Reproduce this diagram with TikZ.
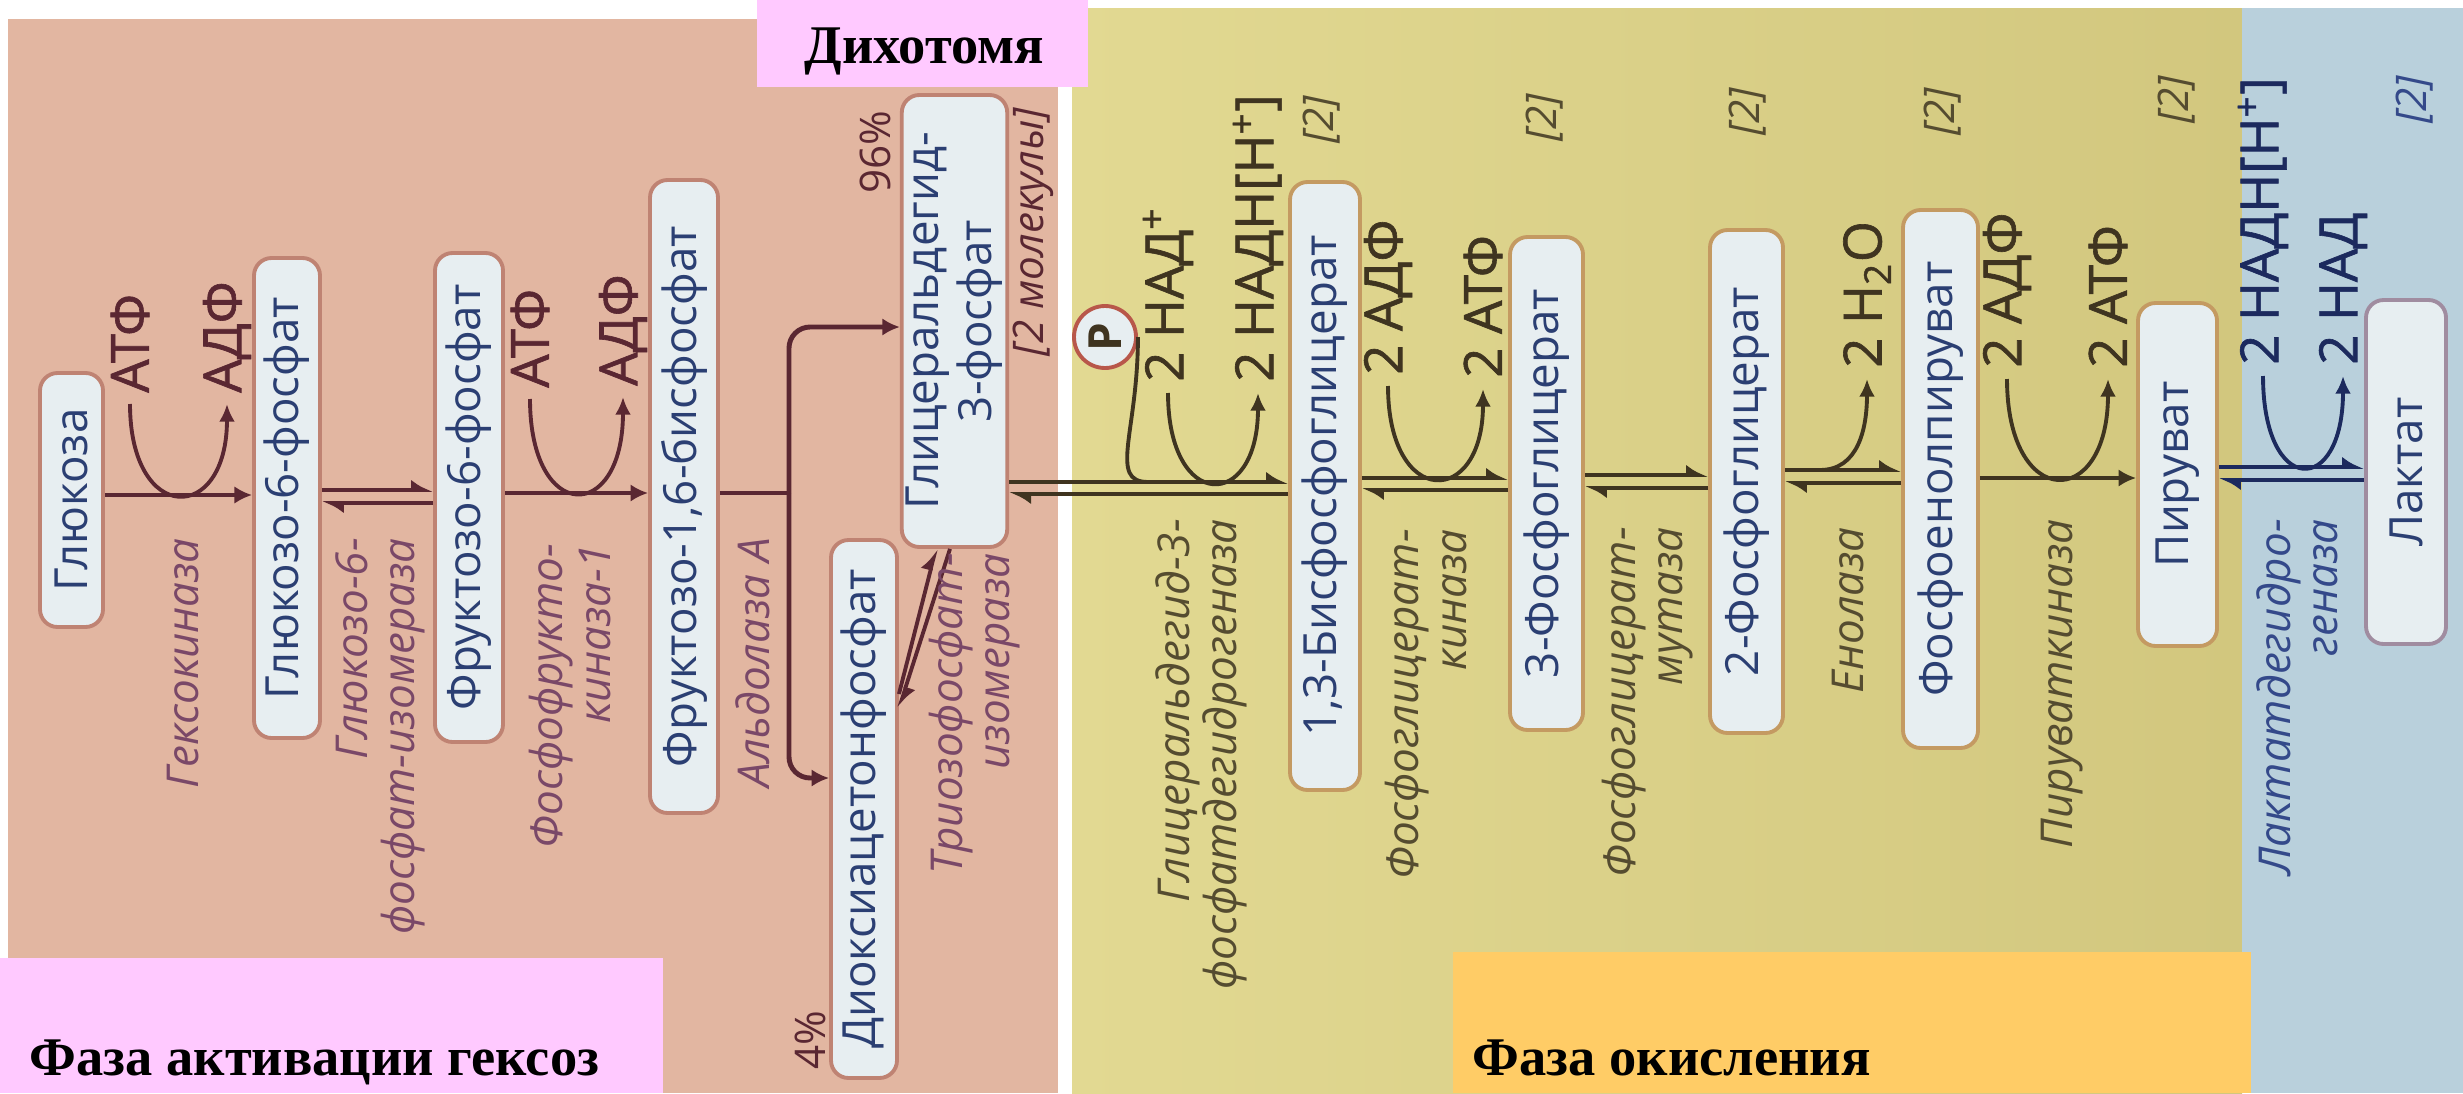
\documentclass[tikz,border=0pt]{standalone}
\usepackage{fontspec}
\setmainfont{Liberation Serif}
\setsansfont{Open Sans}
\newfontfamily\cofont[FakeBold=1.2]{Open Sans}
\usetikzlibrary{arrows.meta}

% zones
\definecolor{zoneA}{HTML}{E2B6A1}
\definecolor{zoneB}{HTML}{E2D992}
\definecolor{zoneBdark}{HTML}{D2C77E}
\definecolor{zoneC}{HTML}{B9D0DC}
\definecolor{pinkbox}{HTML}{FFC9FF}
\definecolor{orangebox}{HTML}{FFCC66}
% boxes
\definecolor{boxfill}{HTML}{E7EEF1}
\definecolor{boxtext}{HTML}{2B3F73}
\definecolor{edgeA}{HTML}{BF8373}
\definecolor{edgeB}{HTML}{C49A62}
\definecolor{edgeC}{HTML}{A08CA0}
\definecolor{edgeP}{HTML}{B8574A}
% lines and labels
\definecolor{inkA}{HTML}{5A2732}
\definecolor{inkB}{HTML}{3F3420}
\definecolor{inkC}{HTML}{1C2A5E}
\definecolor{enzA}{HTML}{7A4868}
\definecolor{enzB}{HTML}{554C30}
\definecolor{enzC}{HTML}{34498A}

\begin{document}
\begin{tikzpicture}[x=0.1mm,y=-0.1mm]
  \tikzset{
    met/.style={draw=#1, line width=1.1pt, fill=boxfill, rounded corners=5pt,
      text=boxtext, inner sep=0pt, font=\sffamily\fontsize{13}{15}\selectfont},
    met/.default=edgeA,
    enz/.style={rotate=90, anchor=east, align=right, inner sep=1pt, text=#1,
      font=\sffamily\itshape\fontsize{12.5}{13.4}\selectfont},
    enz/.default=enzA,
    cof/.style={rotate=90, anchor=west, inner sep=3pt, text=#1,
      font=\cofont\fontsize{15}{17}\selectfont},
    cof/.default=inkA,
    cnt/.style={rotate=90, inner sep=1pt, text=#1,
      font=\sffamily\itshape\fontsize{12}{14}\selectfont},
    cnt/.default=enzB,
    ttl/.style={anchor=base west, inner sep=0pt, text=black,
      font=\rmfamily\bfseries\fontsize{15.5}{18}\selectfont},
    fwd/.style={draw=#1, line width=1.4pt, -{Latex[length=5pt,width=5pt]}},
    fwd/.default=inkA,
    rev/.style={draw=#1, line width=1.1pt, -{Latex[harpoon,length=5pt,width=6pt]}},
    rev/.default=inkA,
    arc/.style={draw=#1, line width=1.1pt, -{Latex[length=5pt,width=4.5pt]}},
    arc/.default=inkA,
    pcirc/.style={circle, draw=edgeP, line width=1.1pt, fill=boxfill,
      minimum size=6.2mm, inner sep=0pt, rotate=90, text=inkB,
      font=\sffamily\bfseries\fontsize{13}{15}\selectfont}
  }
  \useasboundingbox (0,0) rectangle (2463,1093);

  % background zones
  \fill[white] (0,0) rectangle (2463,1093);
  \fill[zoneA] (8,19) rectangle (1058,1093);
  \shade[left color=zoneB, right color=zoneBdark] (1072,8) rectangle (2242,1093);
  \fill[zoneC] (2242,8) rectangle (2463,1093);

  % metabolites
  \node[met, minimum width=6.3mm, minimum height=25.4mm] (glc) at (71.5,500) {\rotatebox{90}{Глюкоза}};
  \node[met, minimum width=6.6mm, minimum height=48mm] (g6p) at (287,498) {\rotatebox{90}{Глюкозо-6-фосфат}};
  \node[met, minimum width=6.8mm, minimum height=48.9mm] (f6p) at (469,497.5) {\rotatebox{90}{Фруктозо-6-фосфат}};
  \node[met, minimum width=6.8mm, minimum height=63.3mm] (f16bp) at (684,496.5) {\rotatebox{90}{Фруктозо-1,6-бисфосфат}};
  \node[met, minimum width=10.5mm, minimum height=45.2mm] (gap) at (954.5,321)
    {\rotatebox{90}{\begin{tabular}{@{}c@{}}Глицеральдегид-\\3-фосфат\end{tabular}}};
  \node[met, minimum width=6.6mm, minimum height=53.8mm] (dhap) at (864,809) {\rotatebox{90}{Диоксиацетонфосфат}};
  \node[met=edgeB, minimum width=7mm, minimum height=60.8mm] (bpg) at (1325,486) {\rotatebox{90}{1,3-Бисфосфоглицерат}};
  \node[met=edgeB, minimum width=7.3mm, minimum height=49.3mm] (pg3) at (1546.5,483.5) {\rotatebox{90}{3-Фосфоглицерат}};
  \node[met=edgeB, minimum width=7.3mm, minimum height=50.3mm] (pg2) at (1746.5,481.5) {\rotatebox{90}{2-Фосфоглицерат}};
  \node[met=edgeB, minimum width=7.5mm, minimum height=53.8mm] (pep) at (1940.5,479) {\rotatebox{90}{Фосфоенолпируват}};
  \node[met=edgeB, minimum width=7.9mm, minimum height=34.3mm] (pyr) at (2177.5,474.5) {\rotatebox{90}{Пируват}};
  \node[met=edgeC, minimum width=8mm, minimum height=34.4mm] (lac) at (2406,472) {\rotatebox{90}{Лактат}};

  % main chain
  \draw[fwd] (glc.east |- 0,495) -- (g6p.west |- 0,495);
  \draw[rev] (g6p.east |- 0,490) -- (f6p.west |- 0,490);
  \draw[rev] (f6p.west |- 0,503) -- (g6p.east |- 0,503);
  \draw[fwd] (f6p.east |- 0,493) -- (f16bp.west |- 0,493);
  \coordinate (fork) at (789,493);
  \draw[draw=inkA, line width=1.4pt] (f16bp.east |- fork) -- (fork);
  \draw[fwd, rounded corners=6pt] (fork) -- (fork |- 0,327) -- (gap.west |- 0,327);
  \draw[fwd, rounded corners=6pt] (fork) -- (fork |- 0,778) -- (dhap.west |- 0,778);
  \draw[rev] (dhap.east |- 0,694) -- (gap.south -| 936,0);
  \draw[rev] (gap.south -| 950,0) -- (dhap.east |- 0,708);
  \draw[rev=inkB] (gap.east |- 0,482) -- (bpg.west |- 0,482);
  \draw[rev=inkB] (bpg.west |- 0,494) -- (gap.east |- 0,494);
  \draw[rev=inkB] (bpg.east |- 0,478) -- (pg3.west |- 0,478);
  \draw[rev=inkB] (pg3.west |- 0,490) -- (bpg.east |- 0,490);
  \draw[rev=inkB] (pg3.east |- 0,475) -- (pg2.west |- 0,475);
  \draw[rev=inkB] (pg2.west |- 0,488) -- (pg3.east |- 0,488);
  \draw[rev=inkB] (pg2.east |- 0,470) -- (pep.west |- 0,470);
  \draw[rev=inkB] (pep.west |- 0,483) -- (pg2.east |- 0,483);
  \draw[fwd=inkB] (pep.east |- 0,478) -- (pyr.west |- 0,478);
  \draw[rev=inkC] (pyr.east |- 0,467) -- (lac.west |- 0,467);
  \draw[rev=inkC] (lac.west |- 0,480) -- (pyr.east |- 0,480);

  % cofactors
  \node[cof] (atp1) at (130,404) {АТФ};
  \node[cof] (adp1) at (227,404) {АДФ};
  \node[cof] (atp2) at (530,399) {АТФ};
  \node[cof] (adp2) at (623,397) {АДФ};
  \node[pcirc] (pho) at (1105,337) {P};
  \node[cof=inkB] (nad1) at (1168,393) {2 НАД\textsuperscript{+}};
  \node[cof=inkB] (nadh1) at (1258,393) {2 НАДН[Н\textsuperscript{+}]};
  \node[cof=inkB] (adp3) at (1388,386) {2 АДФ};
  \node[cof=inkB] (atp3) at (1483,389) {2 АТФ};
  \node[cof=inkB] (h2o) at (1867,379) {2 H\textsubscript{2}O};
  \node[cof=inkB] (adp4) at (2007,379) {2 АДФ};
  \node[cof=inkB] (atp4) at (2108,379) {2 АТФ};
  \node[cof=inkC] (nadh2) at (2263,376) {2 НАДН[Н\textsuperscript{+}]};
  \node[cof=inkC] (nad2) at (2343,376) {2 НАД};

  \draw[arc] (atp1.west) .. controls +(0,121) and +(0,121) .. (adp1.west);
  \draw[arc] (atp2.west) .. controls +(0,125) and +(0,127) .. (adp2.west);
  \coordinate (pjoin) at (1148,482);
  \draw[draw=inkB, line width=1.1pt] (pho.south) .. controls +(0,95) and +(-40,0) .. (pjoin);
  \draw[arc=inkB] (nad1.west) .. controls +(0,119) and +(0,119) .. (nadh1.west);
  \draw[arc=inkB] (adp3.west) .. controls +(0,123) and +(0,119) .. (atp3.west);
  \coordinate (wout) at (1820,470);
  \draw[arc=inkB] (wout) .. controls +(38,0) and +(0,50) .. (h2o.west);
  \draw[arc=inkB] (adp4.west) .. controls +(0,132) and +(0,132) .. (atp4.west);
  \draw[arc=inkC] (nadh2.west) .. controls +(0,121) and +(0,121) .. (nad2.west);

  % enzymes
  \node[enz] (hk) at (183,534) {Гексокиназа};
  \node[enz] (gpi) at (380,534) {Глюкозо-6-\\фосфат-изомераза};
  \node[enz] (pfk) at (570,540) {Фосфофрукто-\\киназа-1};
  \node[enz] (ald) at (753,534) {Альдолаза А};
  \node[enz] (tpi) at (975,549) {Триозофосфат-\\изомераза};
  \node[enz=enzB] (gapdh) at (1201,515) {Глицеральдегид-3-\\фосфатдегидрогеназа};
  \node[enz=enzB] (pgk) at (1426,525) {Фосфоглицерат-\\киназа};
  \node[enz=enzB] (pgm) at (1648,523) {Фосфоглицерат-\\мутаза};
  \node[enz=enzB] (eno) at (1848,523) {Енолаза};
  \node[enz=enzB] (pk) at (2062,515) {Пируваткиназа};
  \node[enz=enzC] (ldh) at (2297,515) {Лактатдегидро-\\геназа};

  % amounts
  \node[cnt=inkA, font=\sffamily\fontsize{12}{14}\selectfont] (p96) at (875,152) {96\%};
  \node[cnt=inkA, font=\sffamily\fontsize{12}{14}\selectfont] (p4) at (810,1040) {4\%};
  \node[cnt=inkA] (mol) at (1033,232) {[2 молекулы]};
  \node[cnt] (n1) at (1322,120) {[2]};
  \node[cnt] (n2) at (1545,118) {[2]};
  \node[cnt] (n3) at (1748,112) {[2]};
  \node[cnt] (n4) at (1943,112) {[2]};
  \node[cnt] (n5) at (2177,100) {[2]};
  \node[cnt=enzC] (n6) at (2415,100) {[2]};

  % phase captions
  \fill[pinkbox] (757,0) rectangle (1088,87);
  \node[ttl] (dich) at (804,63) {Дихотомя};
  \fill[pinkbox] (0,958) rectangle (663,1093);
  \node[ttl] (act) at (29,1075) {Фаза активации гексоз};
  \fill[orangebox] (1453,952) rectangle (2251,1093);
  \node[ttl] (oxi) at (1472,1075) {Фаза окисления};
\end{tikzpicture}
\end{document}
